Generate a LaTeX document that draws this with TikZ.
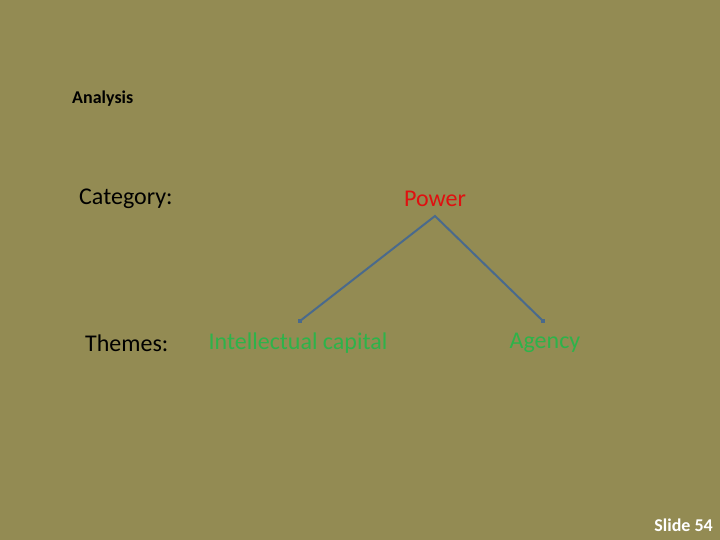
\documentclass[tikz,border=0pt]{standalone}
\usepackage{fontspec}
\setmainfont{Carlito}
\definecolor{bg}{HTML}{938B53}
\definecolor{pred}{HTML}{E01010}
\definecolor{pgreen}{HTML}{2DB34A}
\definecolor{pline}{HTML}{4A6A8C}
\begin{document}
\begin{tikzpicture}[x=1pt,y=-1pt,
  lbl/.style={font=\fontsize{24}{28}\selectfont, inner sep=0pt},
  conn/.style={draw=pline, line width=2pt}]
\fill[bg] (0,0) rectangle (720,540);
\useasboundingbox (0,0) rectangle (720,540);
\node[font=\fontsize{18}{20}\selectfont\bfseries, inner sep=0pt, anchor=west] (an) at (72,99) {Analysis};
\node[lbl, anchor=west] (cat) at (79,199) {Category:};
\node[lbl, anchor=west] (th) at (85,343) {Themes:};
\node[lbl, text=pred] (pw) at (435,199) {Power};
\node[lbl, text=pgreen] (ic) at (298,343) {Intellectual capital};
\node[lbl, text=pgreen] (ag) at (545,343) {Agency};
\coordinate (top) at (435,216);
\coordinate (l) at (300,321);
\coordinate (r) at (543,321);
\draw[conn] (l) -- (top) -- (r);
\fill[pline] (l) ++(-2,-2) rectangle ++(4,4);
\fill[pline] (r) ++(-2,-2) rectangle ++(4,4);
\node[font=\fontsize{18}{20}\selectfont\bfseries, text=white, inner sep=0pt, anchor=east] (sl) at (713,525) {Slide 54};
\end{tikzpicture}
\end{document}
